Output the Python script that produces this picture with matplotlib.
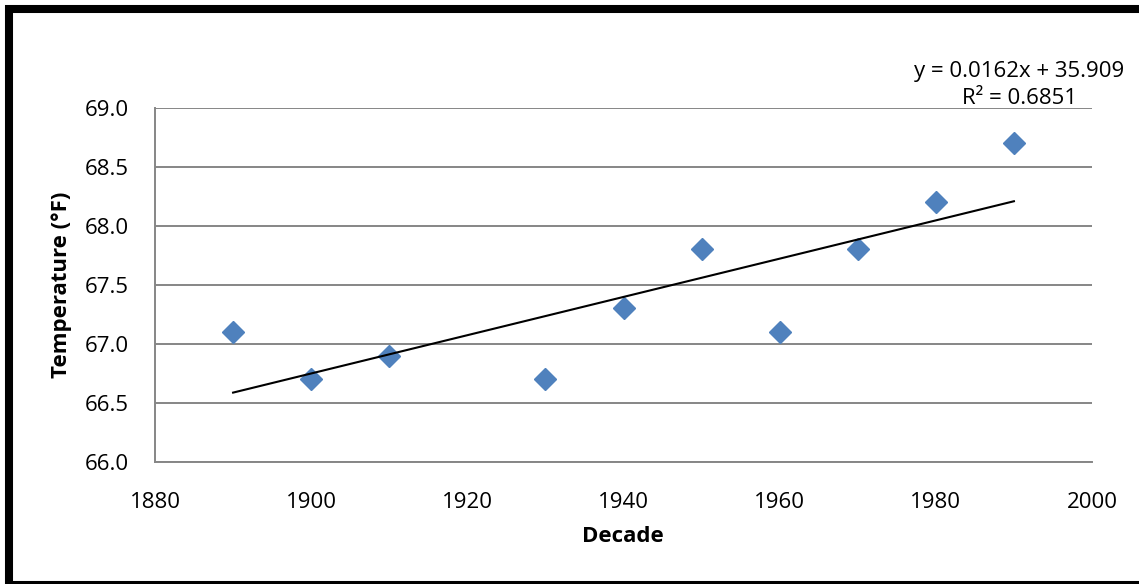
import matplotlib
matplotlib.use("Agg")
import matplotlib.pyplot as plt
from matplotlib.patches import Rectangle
import numpy as np

decades = [1890, 1900, 1910, 1930, 1940, 1950, 1960, 1970, 1980, 1990]
temps = [67.1, 66.7, 66.9, 66.7, 67.3, 67.8, 67.1, 67.8, 68.2, 68.7]
x_ticks = [1880, 1900, 1920, 1940, 1960, 1980, 2000]
y_ticks = [66.0, 66.5, 67.0, 67.5, 68.0, 68.5, 69.0]
equation_text = "y = 0.0162x + 35.909\nR² = 0.6851"

plt.rcParams["font.family"] = ["Open Sans", "DejaVu Sans"]

W, H = 1139, 584
fig = plt.figure(figsize=(W / 100, H / 100), dpi=100)
ax = fig.add_axes([155 / W, 1 - 461.7 / H, (1092 - 155) / W, (461.7 - 108) / H])

grid_color = "#868686"
for yv in y_ticks:
    ax.axhline(yv, color=grid_color, lw=1.4, zorder=1)

ax.plot(decades, temps, linestyle="none", marker="D", ms=11,
        color="#4F81BD", zorder=3)

# linear trendline fitted on the data
slope, intercept = np.polyfit(decades, temps, 1)
xs = np.array([decades[0], decades[-1]])
ax.plot(xs, slope * xs + intercept, color="black", lw=1.5, zorder=4)

ax.set_xlim(1880, 2000)
ax.set_ylim(66.0, 69.0)
ax.set_xticks(x_ticks)
ax.set_yticks(y_ticks)
ax.set_yticklabels([f"{v:.1f}" for v in y_ticks])
ax.tick_params(length=0, labelsize=16, pad=19)
ax.tick_params(axis="x", pad=22)

for side in ["top", "right"]:
    ax.spines[side].set_visible(False)
for side in ["left", "bottom"]:
    ax.spines[side].set_color(grid_color)
    ax.spines[side].set_linewidth(1.4)

fig.text(62 / W, 1 - 285 / H, "Temperature (°F)", rotation=90, fontsize=16,
         fontweight="bold", ha="center", va="center")
fig.text(623 / W, 1 - 537 / H, "Decade", fontsize=16, fontweight="bold",
         ha="center", va="center")
fig.text(1019 / W, 1 - 85 / H, equation_text, fontsize=16, ha="center",
         va="center", multialignment="center", linespacing=1.35)

# outer chart border
fig.patches.append(Rectangle((9 / W, -1 / H), 1.05, 1 - 8 / H, transform=fig.transFigure,
                             fill=False, edgecolor="black", lw=5.8))

fig.savefig("out.png", dpi=100)
